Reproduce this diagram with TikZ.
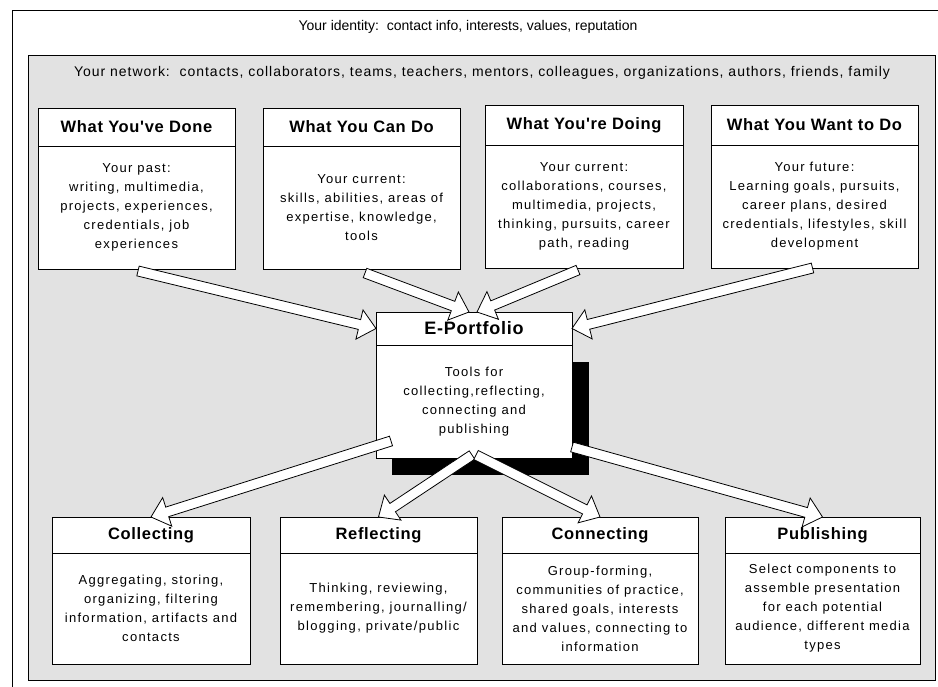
\documentclass[tikz,border=0pt]{standalone}
\usepackage{fontspec}
\setmainfont{Liberation Sans}
\newfontfamily\bodyfont[LetterSpace=10]{Liberation Sans}
\newfontfamily\headfont[LetterSpace=4]{Liberation Sans}
\newfontfamily\netfont[LetterSpace=7]{Liberation Sans}
\usetikzlibrary{positioning, calc, backgrounds}

\definecolor{netgray}{RGB}{226,226,226}
\tikzstyle{boxhead} = [rectangle, draw=black, fill=white, line width=0.8pt, inner sep=0pt, outer sep=0pt, minimum height=38pt, align=center, font=\headfont\bfseries\fontsize{16.5}{19}\selectfont]
\tikzstyle{boxbody} = [rectangle, draw=black, fill=white, line width=0.8pt, inner sep=0pt, outer sep=0pt, align=center, font=\bodyfont\fontsize{13}{19}\selectfont]
\tikzstyle{fat} = [draw=black, fill=white, line width=0.8pt, line join=miter]

% hollow block arrow from #1 to #2
\newcommand{\fatarrow}[2]{%
  \coordinate (hb) at ($(#2)!17pt!(#1)$);
  \draw[fat] ($(#1)!5pt!90:(#2)$) -- ($(hb)!5pt!90:(#2)$) -- ($(hb)!15pt!90:(#2)$) -- (#2)
    -- ($(hb)!15pt!-90:(#2)$) -- ($(hb)!5pt!-90:(#2)$) -- ($(#1)!5pt!-90:(#2)$) -- cycle;}

\begin{document}
\begin{tikzpicture}[x=1pt, y=-1pt]
  \useasboundingbox (0,0) rectangle (938,687);

  \node[font=\fontsize{14}{16}\selectfont] (identity) at (468,27) {Your identity:\ \ contact info, interests, values, reputation};
  \node[font=\netfont\fontsize{14}{16}\selectfont] (network) at (482,73) {Your network:\ \ contacts, collaborators, teams, teachers, mentors, colleagues, organizations, authors, friends, family};

  % what you bring
  \node[boxhead, minimum width=197pt, anchor=north west] (done) at (38,108) {What You've Done};
  \node[boxbody, minimum width=197pt, minimum height=123pt, below=0pt of done] (donebody) {Your past:\\writing, multimedia,\\projects, experiences,\\credentials, job\\experiences};
  \node[boxhead, minimum width=197pt, anchor=north west] (cando) at (263,108) {What You Can Do};
  \node[boxbody, minimum width=197pt, minimum height=123pt, below=0pt of cando] (candobody) {Your current:\\skills, abilities, areas of\\expertise, knowledge,\\tools};
  \node[boxhead, minimum width=198pt, minimum height=40pt, anchor=north west] (doing) at (485,105) {What You're Doing};
  \node[boxbody, minimum width=198pt, minimum height=123pt, below=0pt of doing] (doingbody) {Your current:\\collaborations, courses,\\multimedia, projects,\\thinking, pursuits, career\\path, reading};
  \node[boxhead, minimum width=207pt, minimum height=40pt, anchor=north west] (want) at (711,105) {What You Want to Do};
  \node[boxbody, minimum width=207pt, minimum height=123pt, below=0pt of want] (wantbody) {Your future:\\Learning goals, pursuits,\\career plans, desired\\credentials, lifestyles, skill\\development};

  % centre
  \node[boxhead, minimum width=196pt, minimum height=33pt, anchor=north west, font=\headfont\bfseries\fontsize{18}{20}\selectfont] (eport) at (376,312) {E-Portfolio};
  \node[boxbody, minimum width=196pt, minimum height=113pt, below=0pt of eport] (eportbody) {Tools for\\collecting,reflecting,\\connecting and\\publishing};

  % what it does
  \node[boxhead, minimum width=198pt, minimum height=36pt, anchor=north west] (collect) at (52,517) {Collecting};
  \node[boxbody, minimum width=198pt, minimum height=111pt, below=0pt of collect] (collectbody) {Aggregating, storing,\\organizing, filtering\\information, artifacts and\\contacts};
  \node[boxhead, minimum width=197pt, minimum height=36pt, anchor=north west] (reflect) at (280,517) {Reflecting};
  \node[boxbody, minimum width=197pt, minimum height=111pt, below=0pt of reflect] (reflectbody) {Thinking, reviewing,\\remembering, journalling/\\blogging, private/public};
  \node[boxhead, minimum width=196pt, minimum height=36pt, anchor=north west] (connect) at (502,517) {Connecting};
  \node[boxbody, minimum width=196pt, minimum height=111pt, below=0pt of connect] (connectbody) {Group-forming,\\communities of practice,\\shared goals, interests\\and values, connecting to\\information};
  \node[boxhead, minimum width=195pt, minimum height=36pt, anchor=north west] (publish) at (725,517) {Publishing};
  \node[boxbody, minimum width=195pt, minimum height=111pt, below=0pt of publish] (publishbody) {Select components to\\assemble presentation\\for each potential\\audience, different media\\types};

  \begin{scope}[on background layer]
    \draw[line width=0.8pt] (12,10) rectangle (950,700);
    \draw[line width=0.8pt, fill=netgray] (28,55) rectangle (935,680);
    \fill[black] ($(eportbody.north west)+(16,17)$) rectangle ($(eportbody.south east)+(17,17)$);
  \end{scope}

  % arrow ends
  \coordinate (t1) at ($(donebody.south)+(1.5,2)$);
  \coordinate (t2) at ($(candobody.south)+(3.5,4)$);
  \coordinate (t3) at ($(doingbody.south)+(-6,2)$);
  \coordinate (t4) at ($(wantbody.south)+(-2,0)$);
  \coordinate (t5) at ($(eportbody.south west)+(15,-17)$);
  \coordinate (t6) at ($(eportbody.south)+(-2,-3)$);
  \coordinate (t7) at ($(eportbody.south)+(2,-3)$);
  \coordinate (t8) at ($(eportbody.south east)+(0,-11)$);
  \coordinate (h2) at ($(eport.north)+(-5,0)$);
  \coordinate (h3) at ($(eport.north)+(3,0)$);

  \fatarrow{t1}{eport.west}
  \fatarrow{t2}{h2}
  \fatarrow{t3}{h3}
  \fatarrow{t4}{eport.east}
  \fatarrow{t5}{collect.north}
  \fatarrow{t6}{reflect.north}
  \fatarrow{t7}{connect.north}
  \fatarrow{t8}{publish.north}

\end{tikzpicture}
\end{document}
